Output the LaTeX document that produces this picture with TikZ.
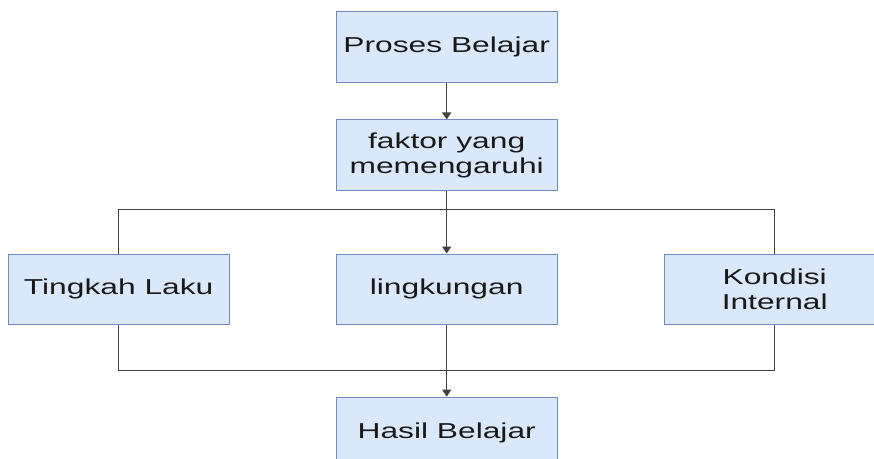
\documentclass[tikz,border=0pt]{standalone}
\usepackage{fontspec}
\setmainfont{Liberation Sans}[FakeStretch=1.47]
\usetikzlibrary{positioning, arrows.meta}
\definecolor{boxfill}{HTML}{DAE8FC}
\definecolor{boxdraw}{HTML}{6C8EBF}
\definecolor{linegray}{HTML}{404040}
\tikzstyle{block} = [rectangle, minimum width=221pt, minimum height=70.7pt, text centered, align=center, draw=boxdraw, fill=boxfill, line width=1pt, text=black!90, font=\fontsize{21.6pt}{25.5pt}\selectfont]
\tikzstyle{arrow} = [line width=1.3pt, draw=linegray, -{Triangle[width=9pt,length=7pt]}]
\tikzstyle{link} = [line width=1.3pt, draw=linegray]

\begin{document}
\begin{tikzpicture}
				[node distance=36.3pt]
				\useasboundingbox (-446.7pt,-410.7pt) rectangle (427.3pt,47.3pt);

				\node (proses) [block] {Proses Belajar};
				\node (faktor) [block, below=of proses] {faktor yang\\memengaruhi};
				\node (lingkungan) [block, below=62.4pt of faktor] {lingkungan};
				\node (tingkah) [block, left=106pt of lingkungan] {Tingkah Laku};
				\node (kondisi) [block, right=106pt of lingkungan] {Kondisi\\Internal};
				\node (hasil) [block, below=71.4pt of lingkungan] {Hasil Belajar};

				\draw [arrow] (proses) -- (faktor);
				\draw [arrow] (faktor) -- (lingkungan);
				\draw [link] (tingkah.north) -- ++(0,44pt) -| (kondisi.north);
				\draw [link] (tingkah.south) -- ++(0,-45pt) -| (kondisi.south);
				\draw [arrow] (lingkungan) -- (hasil);
			\end{tikzpicture}
\end{document}
